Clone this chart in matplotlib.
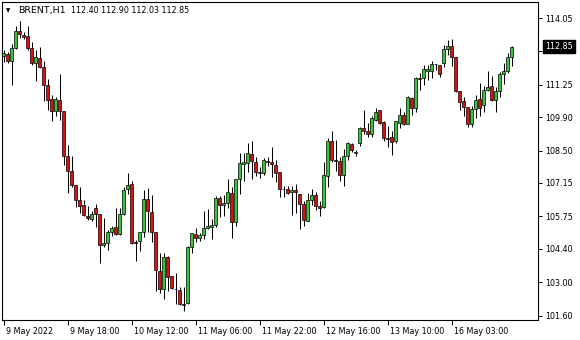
import matplotlib
matplotlib.use("Agg")
import matplotlib.pyplot as plt
from matplotlib.patches import Rectangle
from matplotlib.transforms import blended_transform_factory, offset_copy, ScaledTranslation

# BRENT H1 candles (oldest first)
opens = [112.47, 112.55, 112.26, 112.80, 113.49, 113.35, 113.31, 112.80, 112.15, 112.38,
         111.99, 111.26, 110.66, 110.17, 110.62, 110.17, 108.29, 107.66, 107.07, 106.44,
         106.24, 105.78, 105.63, 106.10, 105.85, 104.56, 104.62, 105.08, 105.29, 105.02,
         105.85, 106.90, 107.11, 104.70, 104.71, 105.08, 106.48, 105.95, 105.08, 103.48,
         102.72, 104.04, 103.27, 102.73, 102.67, 102.11, 102.13, 104.46, 105.02, 104.87,
         104.98, 105.27, 105.33, 105.38, 106.52, 106.23, 106.31, 106.73, 105.50, 107.32,
         107.93, 107.99, 108.36, 108.03, 107.61, 107.57, 108.08, 108.04, 107.90, 107.59,
         106.90, 106.90, 106.76, 106.86, 106.69, 106.27, 105.57, 106.44, 106.65, 106.20,
         106.13, 107.43, 108.92, 108.12, 108.08, 107.48, 108.26, 108.78, 108.46, 108.82,
         109.45, 109.34, 109.20, 109.80, 110.20, 109.71, 109.03, 109.09, 108.92, 109.68,
         110.01, 109.62, 110.71, 110.29, 111.54, 111.54, 111.85, 111.85, 112.13, 112.10,
         112.15, 112.75, 112.89, 112.43, 111.01, 110.59, 110.34, 109.62, 110.25, 110.66,
         110.43, 111.05, 111.22, 110.62, 110.98, 111.71, 111.82, 112.40]
highs = [112.71, 112.61, 112.98, 113.73, 113.92, 113.48, 113.73, 113.03, 112.71, 112.85,
         112.25, 111.50, 110.84, 110.76, 111.72, 110.17, 108.75, 108.29, 107.08, 107.00,
         106.44, 106.20, 105.99, 106.27, 105.85, 105.69, 105.18, 105.36, 106.10, 106.10,
         106.97, 107.55, 107.22, 104.77, 105.08, 106.86, 106.94, 106.66, 105.08, 104.21,
         104.23, 104.10, 103.27, 103.37, 102.78, 102.78, 104.53, 105.06, 105.25, 105.06,
         105.96, 106.06, 105.64, 106.62, 106.62, 106.66, 107.32, 106.97, 107.32, 108.40,
         108.40, 108.82, 108.92, 108.25, 107.80, 108.20, 108.25, 108.67, 108.11, 107.59,
         107.04, 107.04, 107.04, 107.11, 106.69, 106.41, 106.72, 106.90, 106.76, 106.41,
         108.01, 109.03, 109.31, 108.96, 108.25, 108.57, 108.85, 108.81, 108.53, 109.51,
         110.20, 109.66, 109.97, 110.29, 110.20, 109.76, 109.55, 109.31, 109.76, 110.29,
         110.10, 110.80, 110.73, 111.60, 111.73, 112.10, 112.10, 112.26, 112.13, 112.10,
         112.93, 113.13, 113.17, 112.43, 111.01, 110.73, 110.34, 110.38, 110.84, 111.32,
         111.22, 111.82, 111.64, 111.15, 111.78, 112.15, 112.57, 112.90]
lows = [112.19, 112.18, 111.26, 112.75, 113.21, 113.17, 112.71, 112.10, 111.43, 111.97,
        110.57, 110.20, 109.76, 109.97, 109.79, 107.92, 106.72, 106.97, 106.13, 105.88,
        105.78, 105.60, 105.57, 105.32, 103.79, 104.46, 104.35, 104.95, 104.99, 104.99,
        105.82, 106.69, 104.60, 103.90, 104.32, 104.90, 105.08, 104.67, 102.65, 102.57,
        102.28, 102.65, 102.72, 102.11, 102.06, 101.81, 102.09, 104.21, 104.67, 104.71,
        104.79, 105.21, 104.81, 105.32, 105.71, 105.75, 106.10, 104.87, 105.36, 106.69,
        107.22, 107.59, 107.32, 107.46, 107.36, 107.50, 107.87, 107.41, 107.18, 106.58,
        106.55, 106.69, 105.82, 105.88, 105.23, 105.36, 105.54, 106.24, 106.03, 105.75,
        106.10, 106.97, 108.01, 107.66, 107.22, 107.01, 108.11, 108.46, 108.26, 108.68,
        109.22, 109.06, 109.09, 109.76, 109.62, 108.92, 108.64, 108.32, 108.84, 109.45,
        109.59, 109.62, 110.01, 110.14, 111.05, 111.26, 111.46, 111.54, 111.88, 111.60,
        112.01, 112.52, 112.06, 110.94, 110.20, 109.97, 109.48, 109.48, 109.87, 109.97,
        110.10, 111.01, 110.59, 110.14, 110.73, 111.29, 111.73, 112.03]
closes = [112.59, 112.26, 112.80, 113.52, 113.38, 113.27, 112.80, 112.15, 112.40, 112.01,
          111.26, 110.62, 110.17, 110.66, 110.17, 108.29, 107.66, 107.07, 106.44, 106.20,
          105.81, 105.67, 105.85, 105.85, 104.56, 104.64, 105.11, 105.27, 105.02, 105.85,
          106.86, 107.07, 104.62, 104.62, 105.08, 106.48, 105.96, 105.08, 103.51, 102.72,
          104.04, 103.20, 102.76, 102.70, 102.09, 102.05, 104.49, 105.06, 104.87, 104.98,
          105.27, 105.36, 105.41, 106.52, 106.24, 106.33, 106.77, 105.50, 107.32, 107.99,
          108.01, 108.40, 108.05, 107.59, 107.58, 108.11, 108.01, 107.95, 107.57, 106.90,
          106.88, 106.73, 106.86, 106.76, 106.27, 105.60, 106.44, 106.65, 106.17, 106.10,
          107.48, 108.92, 108.11, 108.05, 107.48, 108.26, 108.82, 108.53, 108.40, 109.45,
          109.31, 109.20, 109.87, 110.14, 109.66, 109.02, 108.97, 108.85, 109.73, 110.01,
          109.62, 110.76, 110.29, 111.54, 111.52, 111.92, 111.92, 112.13, 112.11, 111.71,
          112.75, 112.89, 112.40, 110.98, 110.52, 110.34, 109.62, 110.25, 110.62, 110.29,
          111.04, 111.15, 110.62, 110.98, 111.71, 111.82, 112.43, 112.85]

price_ticks = [101.60, 103.00, 104.40, 105.75, 107.15, 108.50, 109.90, 111.25, 112.65, 114.05]
time_labels = ["9 May 2022", "9 May 18:00", "10 May 12:00", "11 May 06:00",
               "11 May 22:00", "12 May 16:00", "13 May 10:00", "16 May 03:00"]
time_label_bars = [0, 16, 32, 48, 64, 80, 96, 112]

up_color = "#3cc23c"
down_color = "#d41414"
fs = 5.8

fig = plt.figure(figsize=(5.8, 3.4), dpi=100)
# axes box on whole pixels: x 2..538, y 2..320 (from the top)
ax = fig.add_axes([2 / 580, 20 / 340, 536 / 580, 318 / 340])
ymin, ymax = 101.42, 114.72
ax.set_xlim(-0.375, 133.625)   # 4 px per bar
ax.set_ylim(ymin, ymax)

n = len(opens)
idx = list(range(n))
ax.vlines(idx, lows, highs, color="black", lw=0.72, zorder=2)

w = 0.6
for i in idx:
    o, c = opens[i], closes[i]
    col = up_color if c > o else down_color
    lo = min(o, c)
    h = max(abs(c - o), 0.01)
    ax.add_patch(Rectangle((i - w / 2, lo), w, h, facecolor=col, edgecolor="black",
                           lw=0.5, zorder=3))

for s in ax.spines.values():
    s.set_linewidth(0.8)
    s.set_color("black")

# the 112.65 level sits under the price tag, so only its tick mark shows
ax.yaxis.tick_right()
ax.set_yticks(price_ticks)
ax.set_yticklabels(["" if abs(v - 112.65) < 1e-6 else f"{v:.2f}" for v in price_ticks])
ax.tick_params(axis="y", length=3, width=0.7, pad=2.2, labelsize=fs, colors="black")

ax.set_xticks(time_label_bars)
ax.set_xticklabels(time_labels)
ax.tick_params(axis="x", length=3.5, width=0.7, pad=1.5, labelsize=fs, colors="black")
shift = ScaledTranslation(2 / 100, 0, fig.dpi_scale_trans)
for lbl in ax.get_xticklabels():
    lbl.set_ha("left")
    lbl.set_transform(lbl.get_transform() + shift)

# current price tag
tr = offset_copy(blended_transform_factory(ax.transAxes, ax.transData),
                 fig=fig, x=7, y=0, units="dots")
ax.text(1.0, closes[-1], f"{closes[-1]:.2f}", transform=tr, ha="left", va="center",
        fontsize=fs, color="white", zorder=10, clip_on=False,
        bbox=dict(boxstyle="square,pad=0.22", fc="black", ec="black"))

# header
fig.text(8 / 580, 1 - 10.5 / 340, "\u25bc", fontsize=4, ha="center", va="center")
fig.text(18 / 580, 1 - 10.8 / 340, "BRENT,H1", fontsize=6.8, ha="left", va="center")
fig.text(71 / 580, 1 - 10.8 / 340,
         f"{opens[-1]:.2f} {highs[-1]:.2f} {lows[-1]:.2f} {closes[-1]:.2f}",
         fontsize=fs, ha="left", va="center")

fig.savefig("out.png", dpi=100, facecolor="white")
